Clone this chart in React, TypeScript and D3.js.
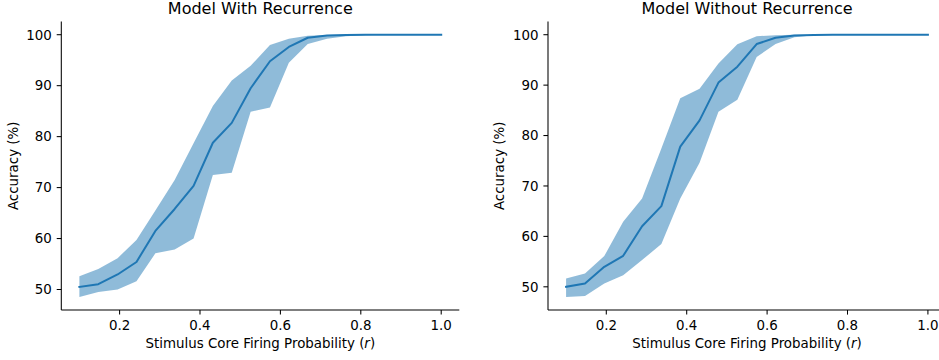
import React from "react";
import * as d3 from "d3";

// Stimulus core firing probability (r), sampled at 20 levels
const firingProb = [
  0.1, 0.147, 0.195, 0.242, 0.289, 0.337, 0.384, 0.432, 0.479, 0.526,
  0.574, 0.621, 0.668, 0.716, 0.763, 0.811, 0.858, 0.905, 0.953, 1.0,
];

// Model with recurrence: mean accuracy and spread band (%)
const recMean = [
  50.5, 51.05, 52.95, 55.4, 61.5, 65.8, 70.35, 78.8, 82.7, 89.5,
  94.8, 97.6, 99.4, 99.85, 99.95, 100, 100, 100, 100, 100,
];
const recUpper = [
  52.6, 54.0, 56.15, 59.7, 65.5, 71.5, 78.7, 86.0, 91.0, 93.9,
  98.0, 99.2, 99.8, 99.95, 100, 100, 100, 100, 100, 100,
];
const recLower = [
  48.55, 49.5, 50.0, 51.6, 57.1, 57.85, 60.0, 72.45, 72.9, 84.9,
  85.7, 94.5, 98.2, 99.2, 99.7, 99.9, 100, 100, 100, 100,
];

// Model without recurrence: mean accuracy and spread band (%)
const noRecMean = [
  50.0, 50.67, 53.97, 56.15, 62.0, 66.0, 77.8, 83.0, 90.5, 93.65,
  98.15, 99.4, 99.85, 99.95, 100, 100, 100, 100, 100, 100,
];
const noRecUpper = [
  51.65, 52.65, 56.1, 62.9, 67.5, 77.45, 87.4, 89.3, 94.3, 98.1,
  99.7, 99.9, 100, 100, 100, 100, 100, 100, 100, 100,
];
const noRecLower = [
  48.0, 48.2, 50.67, 52.3, 55.3, 58.5, 67.5, 74.6, 84.7, 87.1,
  95.6, 98.15, 99.5, 99.9, 100, 100, 100, 100, 100, 100,
];

const xTicks = [0.2, 0.4, 0.6, 0.8, 1.0];
const yTicks = [50, 60, 70, 80, 90, 100];

const W = 939;
const H = 360;
const BLUE = "#1f77b4";
const FONT = "'DejaVu Sans', sans-serif";
const TICK_FS = 13.4;
const TITLE_FS = 16;

const AX_W = 398;
const AX_TOP = 21.6;
const AX_BOTTOM = 310;
const TICK_LEN = 4.6;

type PanelProps = {
  left: number;
  title: string;
  mean: number[];
  lower: number[];
  upper: number[];
};

function Panel({ left, title, mean, lower, upper }: PanelProps) {
  // matplotlib-style 5% data margins
  const [xlo, xhi] = d3.extent(firingProb) as [number, number];
  const xpad = (xhi - xlo) * 0.05;
  const x = d3
    .scaleLinear()
    .domain([xlo - xpad, xhi + xpad])
    .range([left, left + AX_W]);

  const [ylo, yhi] = d3.extent([...mean, ...lower, ...upper]) as [number, number];
  const ypad = (yhi - ylo) * 0.05;
  const y = d3
    .scaleLinear()
    .domain([ylo - ypad, yhi + ypad])
    .range([AX_BOTTOM, AX_TOP]);

  const idx = d3.range(firingProb.length);
  const band = d3
    .area<number>()
    .x((i) => x(firingProb[i]))
    .y0((i) => y(lower[i]))
    .y1((i) => y(upper[i]));
  const line = d3
    .line<number>()
    .x((i) => x(firingProb[i]))
    .y((i) => y(mean[i]));

  const fmtX = d3.format(".1f");
  const cx = left + AX_W / 2;
  const cy = (AX_TOP + AX_BOTTOM) / 2;

  return (
    <g fontFamily={FONT} fill="#000">
      <path d={band(idx) ?? ""} fill={BLUE} fillOpacity={0.5} stroke="none" />
      <path
        d={line(idx) ?? ""}
        fill="none"
        stroke={BLUE}
        strokeWidth={2}
        strokeLinejoin="round"
        strokeLinecap="square"
      />

      {/* spines */}
      <line x1={left} x2={left} y1={AX_TOP} y2={AX_BOTTOM} stroke="#000" strokeWidth={1.05} />
      <line x1={left} x2={left + AX_W} y1={AX_BOTTOM} y2={AX_BOTTOM} stroke="#000" strokeWidth={1.05} />

      {/* y ticks */}
      {yTicks.map((t) => (
        <g key={`y${t}`}>
          <line x1={left - TICK_LEN} x2={left} y1={y(t)} y2={y(t)} stroke="#000" strokeWidth={1.05} />
          <text
            x={left - TICK_LEN - 4.8}
            y={y(t)}
            dy="0.36em"
            textAnchor="end"
            fontSize={TICK_FS}
          >
            {t}
          </text>
        </g>
      ))}

      {/* x ticks */}
      {xTicks.map((t) => (
        <g key={`x${t}`}>
          <line x1={x(t)} x2={x(t)} y1={AX_BOTTOM} y2={AX_BOTTOM + TICK_LEN} stroke="#000" strokeWidth={1.05} />
          <text x={x(t)} y={329.6} textAnchor="middle" fontSize={TICK_FS}>
            {fmtX(t)}
          </text>
        </g>
      ))}

      {/* axis labels */}
      <text x={cx} y={348.2} textAnchor="middle" fontSize={TICK_FS}>
        Stimulus Core Firing Probability (<tspan fontStyle="italic">r</tspan>)
      </text>
      <text
        transform={`translate(${left - 43.6},${cy}) rotate(-90)`}
        textAnchor="middle"
        fontSize={TICK_FS}
      >
        Accuracy (%)
      </text>

      {/* title */}
      <text x={cx} y={13.6} textAnchor="middle" fontSize={TITLE_FS}>
        {title}
      </text>
    </g>
  );
}

export default function App() {
  return (
    <svg
      width={W}
      height={H}
      viewBox={`0 0 ${W} ${H}`}
      style={{ position: "absolute", left: 0, top: 0, background: "#fff" }}
    >
      <rect width={W} height={H} fill="#fff" />
      <Panel
        left={61.3}
        title="Model With Recurrence"
        mean={recMean}
        lower={recLower}
        upper={recUpper}
      />
      <Panel
        left={548}
        title="Model Without Recurrence"
        mean={noRecMean}
        lower={noRecLower}
        upper={noRecUpper}
      />
    </svg>
  );
}
